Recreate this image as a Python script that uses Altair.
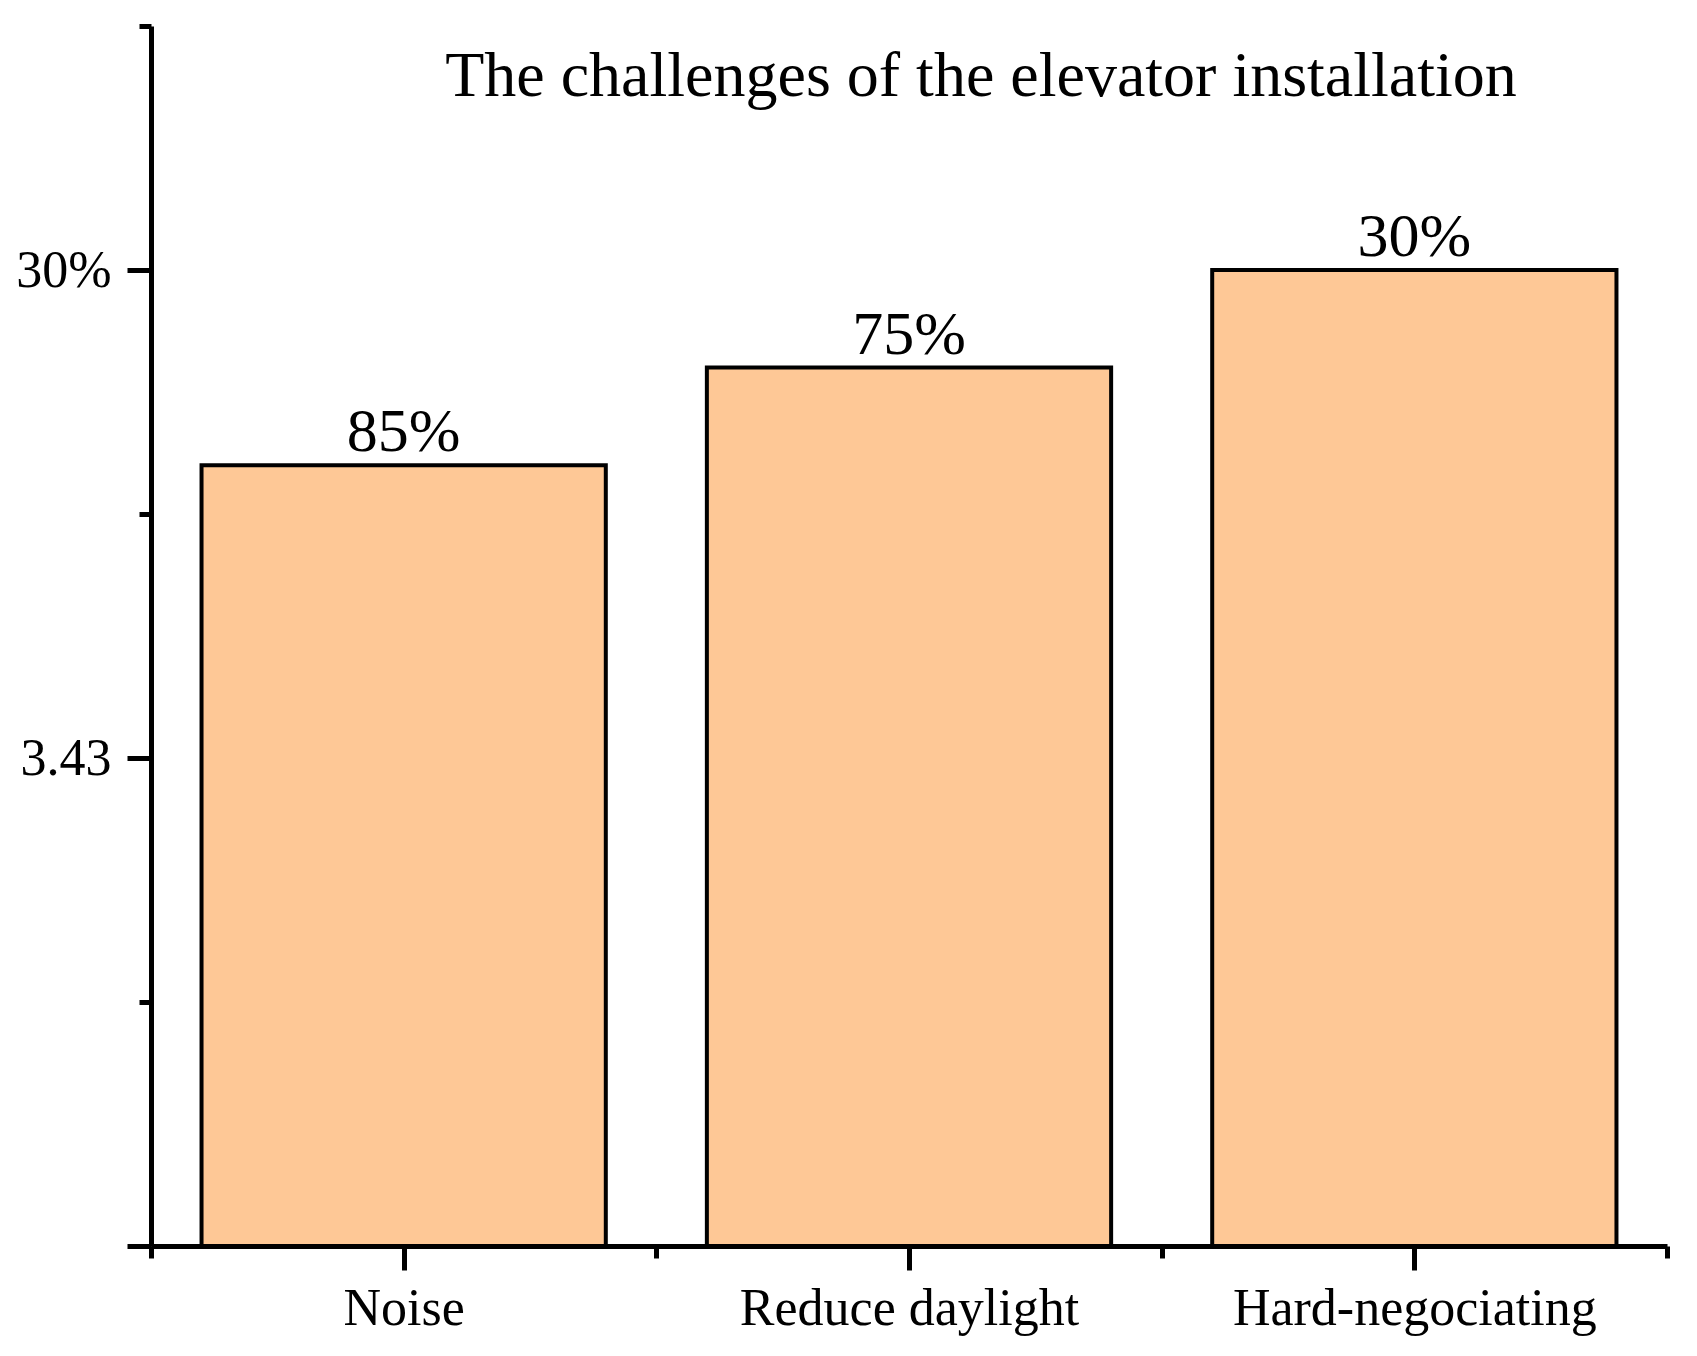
import altair as alt
import pandas as pd

FONT = "Liberation Serif"

categories = ["Noise", "Reduce daylight", "Hard-negociating"]
bar_values = [3.20, 3.60, 4.00]
bar_labels = ["85%", "75%", "30%"]
y_tick_values = [0, 1, 2, 3, 4, 5]
y_tick_labels = {2: "3.43", 4: "30%"}
x_tick_values = [0.5, 1, 1.5, 2, 2.5, 3, 3.5]
title_text = "The challenges of the elevator installation"

df = pd.DataFrame({
    "category": categories,
    "value": bar_values,
    "label": bar_labels,
    "pos": list(range(1, len(categories) + 1)),
})
title_df = pd.DataFrame({"title": [title_text]})

x_label_expr = " : ".join(
    [f"datum.value == {i + 1} ? '{c}'" for i, c in enumerate(categories)]
) + " : ''"
y_label_expr = " : ".join(
    [f"datum.value == {k} ? '{v}'" for k, v in y_tick_labels.items()]
) + " : ''"

base = alt.Chart(df).transform_calculate(
    x0="datum.pos - 0.4", x1="datum.pos + 0.4", y0="0"
)

x_axis = alt.Axis(
    values=x_tick_values,
    labelExpr=x_label_expr,
    tickSize={"condition": {"test": "datum.value % 1 == 0", "value": 24}, "value": 12},
    labelPadding=13,
    labelLimit=0,
    title=None,
)
y_axis = alt.Axis(
    values=y_tick_values,
    labelExpr=y_label_expr,
    tickSize={"condition": {"test": "datum.value % 2 == 0", "value": 24}, "value": 12},
    labelPadding=16,
    labelLimit=0,
    title=None,
)

bars = base.mark_bar(fill="#FEC896", stroke="black", strokeWidth=4).encode(
    x=alt.X("x0:Q", scale=alt.Scale(domain=[0.5, 3.5], nice=False, zero=False), axis=x_axis),
    x2="x1:Q",
    y=alt.Y("value:Q", scale=alt.Scale(domain=[0, 5], nice=False), axis=y_axis),
    y2="y0:Q",
)

texts = base.mark_text(
    font=FONT, fontSize=62, baseline="alphabetic", dy=-14, color="black"
).encode(
    x=alt.X("pos:Q"),
    y=alt.Y("value:Q"),
    text="label:N",
)

title_mark = alt.Chart(title_df).mark_text(
    font=FONT, fontSize=64, baseline="alphabetic", align="center", color="black"
).encode(
    x=alt.value(830),
    y=alt.value(70),
    text="title:N",
)

chart = alt.layer(bars, texts, title_mark).properties(
    width=1516,
    height=1220,
    padding={"left": 7, "top": 15, "right": 10, "bottom": 5},
).configure_axis(
    domainColor="black",
    domainWidth=5,
    tickColor="black",
    tickWidth=5,
    labelColor="black",
    grid=False,
    labelFont=FONT,
    labelFontSize=52,
).configure_view(stroke=None)

chart.save("out.html", embed_options={"renderer": "svg", "actions": False})
